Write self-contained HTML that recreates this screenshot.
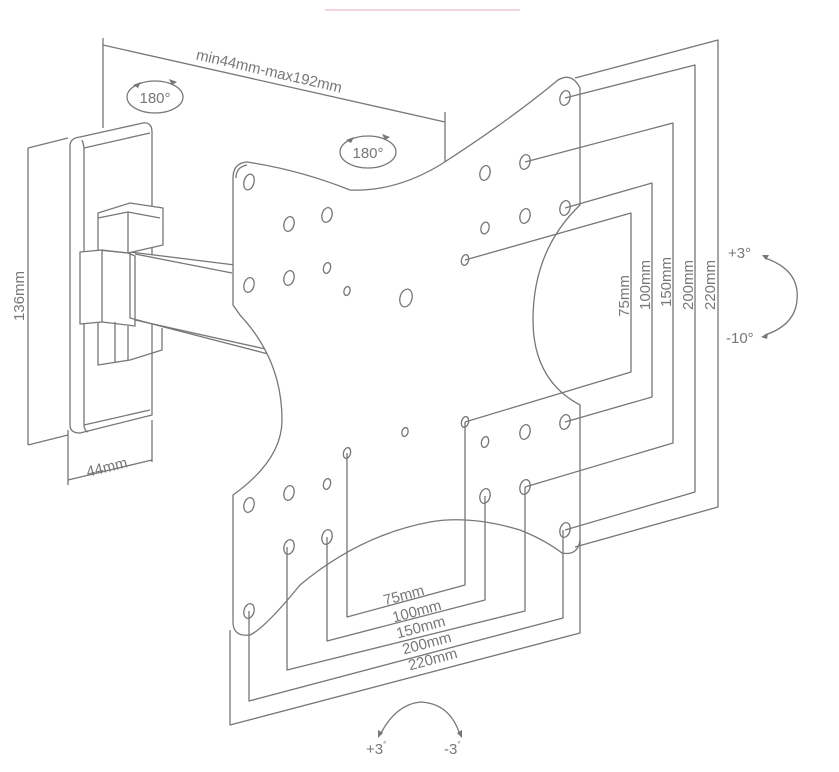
<!DOCTYPE html>
<html><head><meta charset="utf-8"><style>
html,body{margin:0;padding:0;background:#fff}
svg{display:block}
text{font-family:"Liberation Sans",sans-serif;fill:#777}
</style></head><body>
<svg width="839" height="772" viewBox="0 0 839 772" xmlns="http://www.w3.org/2000/svg">
<line x1="325" y1="10" x2="520" y2="10" stroke="#f3c9cf" stroke-width="1.5"/>
<g fill="none" stroke="#777" stroke-width="1.3" stroke-linejoin="round">
<!-- top dimension -->
<line x1="103" y1="38" x2="103" y2="128"/>
<line x1="103" y1="45" x2="445" y2="122"/>
<line x1="445" y1="112" x2="445" y2="165"/>
<!-- 136 dim -->
<line x1="28" y1="148" x2="68" y2="138"/>
<line x1="28" y1="148" x2="28" y2="445"/>
<line x1="28" y1="445" x2="68" y2="435"/>
<!-- 44 dim -->
<line x1="68" y1="430" x2="68" y2="485"/>
<line x1="152" y1="420" x2="152" y2="462"/>
<line x1="68" y1="480" x2="152" y2="460"/>
<!-- 180 ellipses -->
<ellipse cx="155" cy="97" rx="28" ry="16"/>
<ellipse cx="368" cy="152" rx="28" ry="16"/>
<!-- wall plate -->
<path d="M70,146 Q70,138 80,137 L143,123 Q152,122 152,132 L152,415 L80,433 Q70,433 70,425 Z" fill="#fff"/>
<path d="M82,140 Q84,145 84,150 L84,425 Q84,430 88,432"/>
<line x1="84" y1="148" x2="150" y2="133"/>
<line x1="84" y1="425" x2="150" y2="410"/>
<!-- arm -->
<path d="M130,252 L235,265 L240,300 L272,355 L160,326 L130,318 Z" fill="#fff"/>
<line x1="135" y1="254" x2="232" y2="273"/>
<line x1="135" y1="320" x2="270" y2="350"/>
<path d="M98,213 L130,203 L163,208 L163,245 L128,253 L98,250 Z" fill="#fff"/>
<path d="M98,218 L128,212 L160,218"/>
<line x1="128" y1="212" x2="128" y2="253"/>
<path d="M80,252 L102,250 L102,322 L80,324 Z" fill="#fff"/>
<path d="M102,250 L128,253 L135,256 L135,326 L102,322"/>
<path d="M98,322 L98,365 L130,360 L162,350 L162,328"/>
<line x1="115" y1="322" x2="115" y2="362"/>
<line x1="128" y1="326" x2="128" y2="360"/>
<!-- VESA plate -->
<path d="M233,178 Q233,163 247,162 Q300,170 350,190 Q395,192 440,165 Q510,120 558,80 Q572,72 580,88 L580,205 Q533,250 533,320 Q533,380 580,405 L580,540 Q578,556 562,553 Q545,540 520,530 Q470,515 430,522 Q360,535 300,585 Q265,628 250,635 Q233,637 233,622 L233,495 Q282,460 282,420 Q282,360 240,315 L233,305 Z" fill="#fff"/>
<path d="M236,178 Q236,167 247,165" />
<!-- holes -->
<g fill="#fff">
<ellipse cx="249" cy="182" rx="5" ry="8" transform="rotate(15 249 182)"/>
<ellipse cx="289" cy="224" rx="5" ry="7.5" transform="rotate(15 289 224)"/>
<ellipse cx="327" cy="215" rx="5" ry="7.5" transform="rotate(15 327 215)"/>
<ellipse cx="289" cy="278" rx="5" ry="7.5" transform="rotate(15 289 278)"/>
<ellipse cx="327" cy="268" rx="3.5" ry="5.5" transform="rotate(15 327 268)"/>
<ellipse cx="347" cy="291" rx="3" ry="4.5" transform="rotate(15 347 291)"/>
<ellipse cx="406" cy="298" rx="6" ry="9" transform="rotate(15 406 298)"/>
<ellipse cx="249" cy="285" rx="5" ry="7.5" transform="rotate(15 249 285)"/>
<ellipse cx="465" cy="260" rx="3.5" ry="5.5" transform="rotate(15 465 260)"/>
<ellipse cx="485" cy="228" rx="4" ry="6" transform="rotate(15 485 228)"/>
<ellipse cx="525" cy="216" rx="5" ry="7.5" transform="rotate(15 525 216)"/>
<ellipse cx="565" cy="208" rx="5" ry="7.5" transform="rotate(15 565 208)"/>
<ellipse cx="485" cy="173" rx="5" ry="7.5" transform="rotate(15 485 173)"/>
<ellipse cx="525" cy="162" rx="5" ry="7.5" transform="rotate(15 525 162)"/>
<ellipse cx="565" cy="98" rx="5" ry="7.5" transform="rotate(15 565 98)"/>
<ellipse cx="405" cy="432" rx="3" ry="4.5" transform="rotate(15 405 432)"/>
<ellipse cx="465" cy="422" rx="3.5" ry="5.5" transform="rotate(15 465 422)"/>
<ellipse cx="485" cy="442" rx="3.5" ry="5.5" transform="rotate(15 485 442)"/>
<ellipse cx="525" cy="432" rx="5" ry="7.5" transform="rotate(15 525 432)"/>
<ellipse cx="565" cy="422" rx="5" ry="7.5" transform="rotate(15 565 422)"/>
<ellipse cx="485" cy="496" rx="5" ry="7.5" transform="rotate(15 485 496)"/>
<ellipse cx="525" cy="487" rx="5" ry="7.5" transform="rotate(15 525 487)"/>
<ellipse cx="565" cy="530" rx="5" ry="7.5" transform="rotate(15 565 530)"/>
<ellipse cx="347" cy="453" rx="3.5" ry="5.5" transform="rotate(15 347 453)"/>
<ellipse cx="327" cy="484" rx="3.5" ry="5.5" transform="rotate(15 327 484)"/>
<ellipse cx="289" cy="493" rx="5" ry="7.5" transform="rotate(15 289 493)"/>
<ellipse cx="249" cy="505" rx="5" ry="7.5" transform="rotate(15 249 505)"/>
<ellipse cx="289" cy="547" rx="5" ry="7.5" transform="rotate(15 289 547)"/>
<ellipse cx="327" cy="537" rx="5" ry="7.5" transform="rotate(15 327 537)"/>
<ellipse cx="249" cy="611" rx="5" ry="7.5" transform="rotate(15 249 611)"/>
</g>
<!-- right dims -->
<polyline points="575,78 718,40 718,507 575,547"/>
<polyline points="565,98 695,65 695,492 565,530"/>
<polyline points="525,162 673,123 673,443 525,487"/>
<polyline points="565,208 652,183 652,397 565,422"/>
<polyline points="465,260 631,213 631,372 465,422"/>
<!-- bottom dims -->
<polyline points="347,453 347,617 465,585 465,422"/>
<polyline points="327,537 327,641 485,600 485,496"/>
<polyline points="287,547 287,670 525,611 525,487"/>
<polyline points="249,611 249,701 563,618 563,530"/>
<polyline points="230,630 230,725 580,633 580,540"/>
<!-- rotation arcs -->
<path d="M765,258 Q800,270 797,300 Q795,325 765,335"/>
<path d="M380,735 Q395,705 420,702 Q450,703 460,735"/>
</g>
<g fill="#777">
<path d="M762,255 l7,0 l-3,5 z"/><path d="M761,337 l7,-4 l-1,6 z"/>
<path d="M378,738 l0,-8 l5,3 z"/><path d="M462,738 l0,-8 l-5,3 z"/>
<path d="M133,85 l8,-3 l-3,6 z"/><path d="M177,82 l-8,-3 l3,6 z"/>
<path d="M346,140 l8,-3 l-3,6 z"/><path d="M390,137 l-8,-3 l3,6 z"/>
</g>
<text x="155" y="103" font-size="15" text-anchor="middle">180°</text>
<text x="368" y="158" font-size="15" text-anchor="middle">180°</text>
<text transform="translate(268,76) rotate(13)" font-size="15" text-anchor="middle">min44mm-max192mm</text>
<text transform="translate(24,296) rotate(-90)" font-size="15" text-anchor="middle">136mm</text>
<text transform="translate(108,472) rotate(-14)" font-size="15" text-anchor="middle">44mm</text>
<g font-size="15" text-anchor="middle">
<text transform="translate(629,296) rotate(-90)">75mm</text>
<text transform="translate(650,285) rotate(-90)">100mm</text>
<text transform="translate(671,282) rotate(-90)">150mm</text>
<text transform="translate(693,285) rotate(-90)">200mm</text>
<text transform="translate(715,285) rotate(-90)">220mm</text>
<text transform="translate(405,600) rotate(-15)">75mm</text>
<text transform="translate(418,616) rotate(-15)">100mm</text>
<text transform="translate(422,632) rotate(-15)">150mm</text>
<text transform="translate(428,648) rotate(-15)">200mm</text>
<text transform="translate(434,664) rotate(-15)">220mm</text>
</g>
<text x="728" y="258" font-size="15">+3°</text>
<text x="726" y="343" font-size="15">-10°</text>
<text x="366" y="754" font-size="15">+3<tspan font-size="8" dy="-7">°</tspan></text>
<text x="444" y="754" font-size="15">-3<tspan font-size="8" dy="-7">°</tspan></text>
</svg>
</body></html>
